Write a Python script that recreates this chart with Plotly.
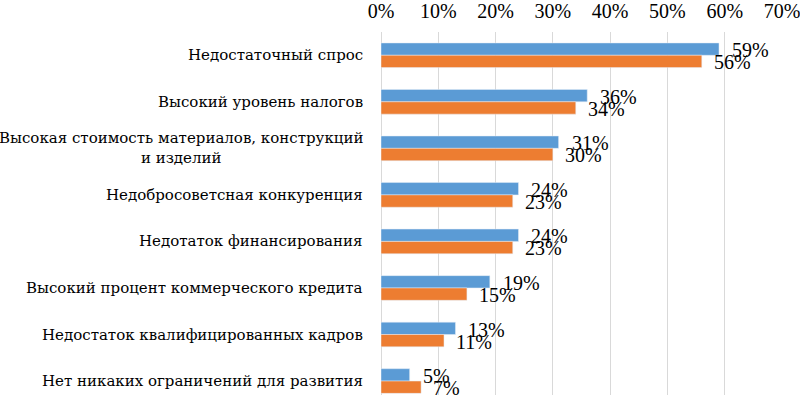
import plotly.graph_objects as go

categories = [
    "Недостаточный спрос",
    "Высокий уровень налогов",
    "Высокая стоимость материалов, конструкций<br>и изделий",
    "Недобросоветсная конкуренция",
    "Недотаток финансирования",
    "Высокий процент коммерческого кредита",
    "Недостаток квалифицированных кадров",
    "Нет никаких ограничений для развития",
]
series_blue = [59, 36, 31, 24, 24, 19, 13, 5]
series_orange = [56, 34, 30, 23, 23, 15, 11, 7]
x_ticks = [0, 10, 20, 30, 40, 50, 60, 70]

BLUE = "#5B9BD5"
ORANGE = "#ED7D31"
NUM_FONT = "Liberation Serif, serif"
CAT_FONT = "DejaVu Serif, serif"

fig = go.Figure()
fig.add_trace(go.Bar(y=categories, x=series_blue, orientation="h",
                     marker_color=BLUE, name="1", showlegend=False))
fig.add_trace(go.Bar(y=categories, x=series_orange, orientation="h",
                     marker_color=ORANGE, name="2", showlegend=False))

ann = []
for c, b, o in zip(categories, series_blue, series_orange):
    ann.append(dict(x=b, y=c, xref="x", yref="y", text=f"{b}%", showarrow=False,
                    xanchor="left", yanchor="middle", xshift=11, yshift=5,
                    font=dict(family=NUM_FONT, size=20, color="black")))
    ann.append(dict(x=o, y=c, xref="x", yref="y", text=f"{o}%", showarrow=False,
                    xanchor="left", yanchor="middle", xshift=10, yshift=-7,
                    font=dict(family=NUM_FONT, size=20, color="black")))
    ann.append(dict(x=0, y=c, xref="paper", yref="y", text=c, showarrow=False,
                    xanchor="right", yanchor="middle", xshift=-16, align="center",
                    font=dict(family=CAT_FONT, size=15, color="black")))

fig.update_layout(
    width=800, height=395,
    margin=dict(l=381, r=18, t=32, b=0),
    paper_bgcolor="white", plot_bgcolor="white",
    barmode="group", bargap=0.47, bargroupgap=0,
    font=dict(family=NUM_FONT, size=20, color="black"),
    annotations=ann,
    xaxis=dict(side="top", range=[0, 70], tickvals=x_ticks,
               ticktext=[f"{t}%" for t in x_ticks],
               showgrid=True, gridcolor="#D9D9D9", gridwidth=1,
               zeroline=True, zerolinecolor="#D9D9D9", zerolinewidth=1,
               showline=False, ticks="", ticklabelstandoff=9, automargin=False,
               ticklabeloverflow="allow",
               tickfont=dict(family=NUM_FONT, size=20, color="black")),
    yaxis=dict(range=[7.3, -0.5], showticklabels=False, showgrid=False,
               zeroline=False, showline=False, ticks="", automargin=False),
)

fig.write_html("out.html", config={"displayModeBar": False},
               post_script="document.body.style.margin='0';")
